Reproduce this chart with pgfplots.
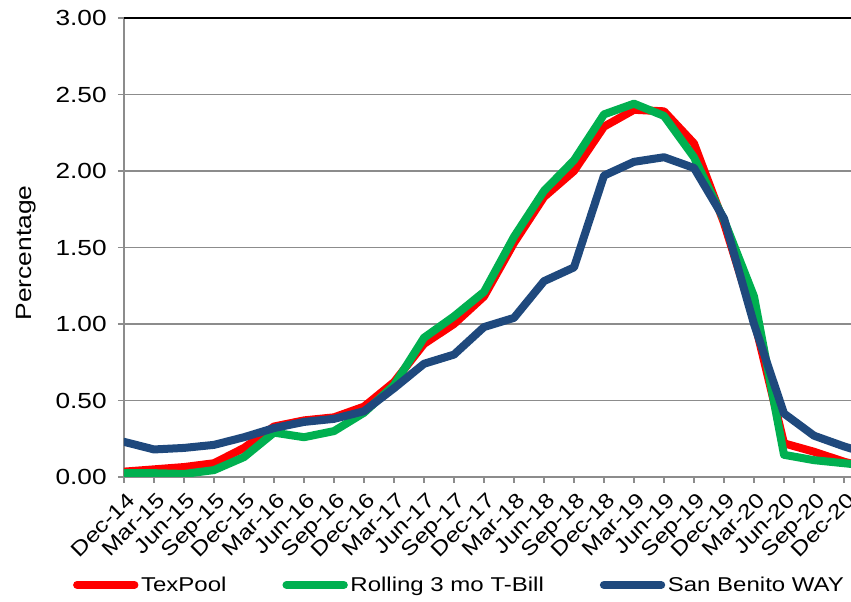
\documentclass[border=0pt]{standalone}
\usepackage{fontspec}
\setmainfont[FakeStretch=1.2]{Liberation Sans}
\usepackage{pgfplots}
\usepackage{pgfplotstable}
\pgfplotsset{compat=1.18}
\definecolor{tpRed}{HTML}{FF0000}
\definecolor{tbGreen}{HTML}{00B050}
\definecolor{sbBlue}{HTML}{1F497D}
\definecolor{gridGray}{HTML}{8C8C8C}

% quarterly yields, k = 0 is Dec-14; k = 25 runs past the cropped right edge
\pgfplotstableread{
k  texpool tbill way
0  0.035   0.025 0.23
1  0.05    0.025 0.18
2  0.065   0.02  0.19
3  0.09    0.045 0.21
4  0.19    0.13  0.26
5  0.33    0.29  0.32
6  0.37    0.26  0.36
7  0.39    0.30  0.38
8  0.46    0.42  0.43
9  0.62    0.60  0.58
10 0.87    0.91  0.74
11 1.00    1.05  0.80
12 1.18    1.21  0.98
13 1.53    1.57  1.04
14 1.83    1.87  1.28
15 2.00    2.07  1.37
16 2.29    2.37  1.97
17 2.40    2.44  2.06
18 2.39    2.36  2.09
19 2.18    2.09  2.02
20 1.66    1.68  1.69
21 1.03    1.18  1.00
22 0.22    0.145 0.415
23 0.165   0.11  0.27
24 0.10    0.09  0.20
25 0.05    0.07  0.14
}\rates

\begin{document}
\begin{tikzpicture}
\path[use as bounding box] (-93pt,-93.75pt) rectangle (545.25pt,357.75pt);
\begin{axis}[
    name=ax,
    at={(0,0)}, anchor=south west,
    scale only axis,
    width=545.25pt, height=344.25pt,
    xmin=0, xmax=24.233, ymin=0, ymax=3,
    xtick={0,...,24},
    xticklabels={Dec-14,Mar-15,Jun-15,Sep-15,Dec-15,Mar-16,Jun-16,Sep-16,Dec-16,Mar-17,Jun-17,Sep-17,Dec-17,Mar-18,Jun-18,Sep-18,Dec-18,Mar-19,Jun-19,Sep-19,Dec-19,Mar-20,Jun-20,Sep-20,Dec-20},
    ytick={0,0.5,1,1.5,2,2.5,3},
    /pgf/number format/assume math mode=true,
    yticklabel style={/pgf/number format/fixed, /pgf/number format/fixed zerofill,
        /pgf/number format/precision=2, font=\fontsize{16.4}{18}\selectfont, xshift=-5pt},
    xticklabel style={rotate=45, anchor=north east, font=\fontsize{15.5}{17}\selectfont,
        yshift=-2pt},
    axis x line*=bottom, axis y line*=left,
    axis line style={gridGray, line width=1.3pt, -},
    ymajorgrids, major grid style={gridGray, line width=1.3pt},
    tick align=outside, major tick length=4.5pt,
    tick style={gridGray, line width=1.3pt},
    ylabel={Percentage},
    every axis y label/.style={at={(axis description cs:-0.1348,0.488)}, rotate=90,
        anchor=center, font=\fontsize{16.5}{18}\selectfont},
    legend style={at={(axis description cs:0.462,-0.235)}, anchor=center, draw=none,
        fill=none, font=\fontsize{15}{17}\selectfont,
        /tikz/every even column/.append style={column sep=40pt}},
    legend columns=3,
    legend image code/.code={\draw[#1, line cap=round] (0pt,0pt) -- (43pt,0pt);},
]
\addplot[tpRed, line width=6pt, line join=round, line cap=round] table[x=k, y=texpool] {\rates};
\addlegendentry{TexPool}
\addplot[tbGreen, line width=6pt, line join=round, line cap=round] table[x=k, y=tbill] {\rates};
\addlegendentry{Rolling 3 mo T-Bill}
\addplot[sbBlue, line width=6pt, line join=round, line cap=round] table[x=k, y=way] {\rates};
\addlegendentry{San Benito WAY}
\end{axis}
\draw[black, line width=1.3pt] (ax.north west) -- (ax.north east);
\end{tikzpicture}
\end{document}
